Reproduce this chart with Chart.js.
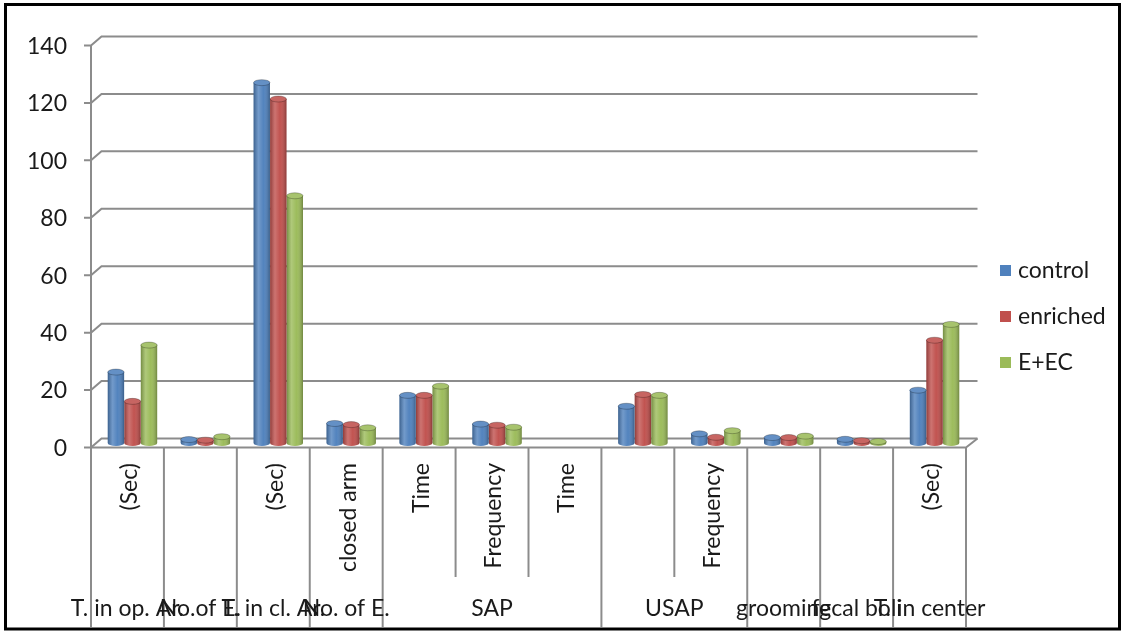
<!DOCTYPE html>
<html>
<head>
<meta charset="utf-8">
<script src="https://cdn.jsdelivr.net/npm/chart.js@4.4.1/dist/chart.umd.min.js"></script>
<style>
  html, body { margin: 0; padding: 0; background: #fff; }
  #wrap { width: 1123px; height: 631px; position: relative; }
</style>
</head>
<body>
<div id="wrap"><canvas id="cv"></canvas></div>
<script>
// category labels (two levels, like the excel multi-level axis)
const subLabels = ['(Sec)', '', '(Sec)', 'closed arm', 'Time', 'Frequency', 'Time', '', 'Frequency', '', '', '(Sec)'];
const groupLabels = ['T. in op. Ar.', 'No.of E.', 'T. in cl. Ar.', 'No. of E.', 'SAP', 'SAP', 'SAP', 'USAP', 'USAP', 'grooming', 'fecal boli', 'T. in center'];

// series values
const control  = [24.7, 1.2, 125.5, 6.8, 16.6, 6.6, 0, 12.8, 3.2, 1.9, 1.3, 18.4];
const enriched = [14.5, 1.0, 119.8, 6.4, 16.6, 6.2, 0, 16.9, 2.0, 1.9, 0.8, 35.8];
const eec      = [34.1, 2.2, 86.1, 5.3, 19.8, 5.5, 0, 16.6, 4.3, 2.4, 0.5, 41.3];

const seriesNames = ['control', 'enriched', 'E+EC'];
const seriesColors = ['#4F81BD', '#C0504D', '#9BBB59'];
const yTicks = [0, 20, 40, 60, 80, 100, 120, 140];

const FONT = '23px Lato, "Liberation Sans", sans-serif';
const TXT = '#1a1a1a';
const LINE = '#8c8c8c';
// 3d offsets of front / back plane relative to the bars (mid depth)
const FX = -5, FY = 4.5, BX = 5.5, BY = -4.5;

// draws the fake 3d walls, axis and the two-level category labels
const excel3d = {
  id: 'excel3d',
  beforeDraw(chart) {
    const ctx = chart.ctx;
    ctx.save();
    ctx.fillStyle = '#fff';
    ctx.fillRect(0, 0, chart.width, chart.height);
    ctx.restore();
  },
  beforeDatasetsDraw(chart) {
    const ctx = chart.ctx, y = chart.scales.y, a = chart.chartArea;
    ctx.save();
    ctx.strokeStyle = LINE;
    ctx.lineWidth = 2;
    yTicks.forEach(t => {
      const py = y.getPixelForValue(t);
      ctx.beginPath();
      ctx.moveTo(a.left + FX - 7, py + FY);
      ctx.lineTo(a.left + FX, py + FY);
      ctx.lineTo(a.left + BX, py + BY);
      ctx.lineTo(a.right + BX + 1, py + BY);
      ctx.stroke();
    });
    // front axis
    ctx.beginPath();
    ctx.moveTo(a.left + FX, y.getPixelForValue(140) + FY);
    ctx.lineTo(a.left + FX, y.getPixelForValue(0) + FY);
    ctx.stroke();
    // floor front edge
    const y0 = y.getPixelForValue(0);
    ctx.beginPath();
    ctx.moveTo(a.left + FX, y0 + FY);
    ctx.lineTo(a.right + FX, y0 + FY);
    ctx.lineTo(a.right + BX + 1, y0 + BY);
    ctx.stroke();
    ctx.restore();
  },
  afterDatasetsDraw(chart) {
    const ctx = chart.ctx;
    chart.data.datasets.forEach((ds, di) => {
      const meta = chart.getDatasetMeta(di);
      meta.data.forEach(bar => {
        const p = bar.getProps(['x', 'y', 'base', 'width'], true);
        const l = p.x - p.width / 2, r = p.x + p.width / 2;
        const ry = Math.min(3, p.width / 5);
        if (p.base - p.y < 0.3) return;
        ctx.save();
        // shading across the cylinder
        const g = ctx.createLinearGradient(l, 0, r, 0);
        g.addColorStop(0, 'rgba(0,0,0,0.25)');
        g.addColorStop(0.3, 'rgba(255,255,255,0.2)');
        g.addColorStop(0.6, 'rgba(255,255,255,0.02)');
        g.addColorStop(1, 'rgba(0,0,0,0.28)');
        ctx.fillStyle = seriesColors[di];
        ctx.beginPath();
        ctx.ellipse(p.x, p.base, p.width / 2, ry, 0, 0, Math.PI);
        ctx.fill();
        ctx.fillStyle = g;
        ctx.beginPath();
        ctx.rect(l, p.y, p.width, p.base - p.y);
        ctx.ellipse(p.x, p.base, p.width / 2, ry, 0, 0, Math.PI);
        ctx.fill();
        // top of the cylinder
        ctx.fillStyle = seriesColors[di];
        ctx.beginPath();
        ctx.ellipse(p.x, p.y, p.width / 2, ry, 0, 0, Math.PI * 2);
        ctx.fill();
        ctx.fillStyle = 'rgba(255,255,255,0.12)';
        ctx.fill();
        ctx.strokeStyle = 'rgba(0,0,0,0.25)';
        ctx.lineWidth = 1;
        ctx.stroke();
        ctx.restore();
      });
    });
  },
  afterDraw(chart) {
    const ctx = chart.ctx, x = chart.scales.x, y = chart.scales.y, a = chart.chartArea;
    const step = (a.right - a.left) / subLabels.length;
    const y0 = y.getPixelForValue(0) + FY;
    ctx.save();
    ctx.font = FONT;
    ctx.fillStyle = TXT;
    // y tick labels
    ctx.textAlign = 'right';
    ctx.textBaseline = 'middle';
    yTicks.forEach(t => ctx.fillText(String(t), a.left + FX - 24, y.getPixelForValue(t) + FY + 1));

    // category dividers
    ctx.strokeStyle = LINE;
    ctx.lineWidth = 2;
    for (let i = 0; i <= subLabels.length; i++) {
      const inner = i > 0 && i < subLabels.length && groupLabels[i] === groupLabels[i - 1];
      const px = a.left + FX + i * step;
      ctx.beginPath();
      ctx.moveTo(px, y0);
      ctx.lineTo(px, inner ? 577 : 627);
      ctx.stroke();
    }
    // rotated sub labels
    subLabels.forEach((s, i) => {
      if (!s) return;
      ctx.save();
      ctx.translate(x.getPixelForValue(i) + FX + 2, 463);
      ctx.rotate(-Math.PI / 2);
      ctx.textAlign = 'right';
      ctx.textBaseline = 'middle';
      ctx.fillText(s, 0, 0);
      ctx.restore();
    });
    // group labels
    ctx.textAlign = 'center';
    ctx.textBaseline = 'middle';
    let start = 0;
    for (let i = 1; i <= groupLabels.length; i++) {
      if (i === groupLabels.length || groupLabels[i] !== groupLabels[start]) {
        const cx = (x.getPixelForValue(start) + x.getPixelForValue(i - 1)) / 2 + FX;
        ctx.fillText(groupLabels[start], cx, 609);
        start = i;
      }
    }
    // legend
    ctx.textAlign = 'left';
    seriesNames.forEach((n, i) => {
      const ly = 271 + i * 46;
      ctx.fillStyle = seriesColors[i];
      ctx.fillRect(1000, ly - 6, 11, 11);
      ctx.fillStyle = TXT;
      ctx.fillText(n, 1018, ly);
    });
    // outer frame
    ctx.strokeStyle = '#000';
    ctx.lineWidth = 3;
    ctx.strokeRect(5.5, 4.5, 1114, 624.5);
    ctx.restore();
  }
};

const chart = new Chart(document.getElementById('cv'), {
  type: 'bar',
  data: {
    labels: groupLabels.map((g, i) => g + ' ' + subLabels[i]),
    datasets: [control, enriched, eec].map((d, i) => ({
      label: seriesNames[i],
      data: d,
      backgroundColor: seriesColors[i],
      borderWidth: 0,
      categoryPercentage: 0.68,
      barPercentage: 0.99
    }))
  },
  options: {
    responsive: true,
    maintainAspectRatio: false,
    animation: false,
    layout: { padding: { left: 96, right: 152, top: 41, bottom: 188 } },
    plugins: { legend: { display: false }, tooltip: { enabled: false } },
    scales: {
      x: { display: false },
      y: { display: false, min: 0, max: 140 }
    }
  },
  plugins: [excel3d]
});
</script>
</body>
</html>
